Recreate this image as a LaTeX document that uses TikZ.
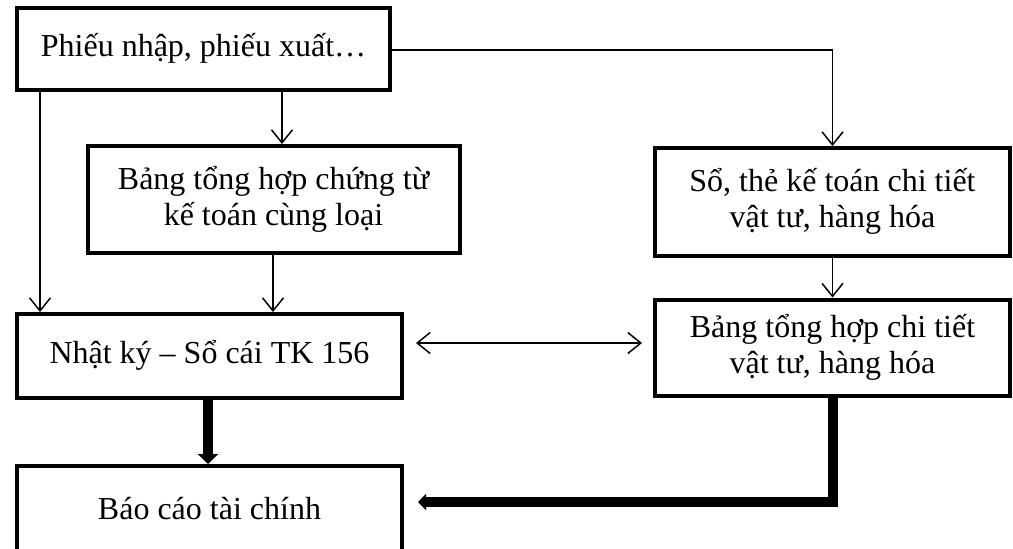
\documentclass[tikz,border=0pt]{standalone}
\usepackage{fontspec}
\setmainfont{Liberation Serif}
\usetikzlibrary{arrows.meta}
\begin{document}
\begin{tikzpicture}[x=1pt,y=-1pt,
  box/.style={draw, line width=4pt, align=center, inner sep=0pt,
    font=\fontsize{32}{36}\selectfont},
  thinarrow/.style={line width=1.5pt,
    -{Straight Barb[length=13pt,width=21pt,line width=1.5pt]}},
  twoway/.style={line width=1.5pt,
    {Straight Barb[length=13pt,width=21pt,line width=1.5pt]}-{Straight Barb[length=13pt,width=21pt,line width=1.5pt]}},
  heavy/.style={line width=10pt, -{Triangle[length=10pt,width=20pt]}},
  heavyflat/.style={line width=10pt, -{Triangle[length=8pt,width=16pt]}}]
\fill[white] (0,0) rectangle (1013,549);
\useasboundingbox (0,0) rectangle (1013,549);

% boxes
\node[box, minimum width=373pt, minimum height=81.5pt] (src) at (203.5,48.75)
  {Phiếu nhập, phiếu xuất…};
\node[box, minimum width=372pt, minimum height=106.5pt] (bth) at (273.5,199.25)
  {Bảng tổng hợp chứng từ\\kế toán cùng loại};
\node[box, minimum width=355pt, minimum height=107.5pt] (sct) at (832.5,201.75)
  {Sổ, thẻ kế toán chi tiết\\vật tư, hàng hóa};
\node[box, minimum width=385pt, minimum height=83.5pt] (nk) at (209.5,355.75)
  {Nhật ký – Sổ cái TK 156};
\node[box, minimum width=355pt, minimum height=96pt] (tht) at (832.5,347.5)
  {Bảng tổng hợp chi tiết\\vật tư, hàng hóa};
\node[box, minimum width=385pt, minimum height=85pt] (bc) at (209.5,508.5)
  {Báo cáo tài chính};

% thin connectors
\draw[thinarrow] ([yshift=-1.25pt]src.east) -| (sct.north);
\draw[thinarrow] ([xshift=78.5pt]src.south) -- ([xshift=8.5pt]bth.north);
\draw[thinarrow] ([xshift=-163.5pt]src.south) -- ([xshift=-169.5pt]nk.north);
\draw[thinarrow] ([xshift=-0.5pt]bth.south) -- ([xshift=63.5pt]nk.north);
\draw[thinarrow] (sct.south) -- (tht.north);
\draw[twoway, shorten <=12pt, shorten >=11pt]
  ([yshift=12.75pt]nk.east) -- ([yshift=4.5pt]tht.west);

% heavy connectors
\draw[heavy] ([xshift=-1.5pt]nk.south) -- ([xshift=-1.5pt]bc.north);
\draw[heavyflat, shorten >=14pt] (tht.south) |- ([yshift=6.5pt]bc.east);
\end{tikzpicture}
\end{document}
